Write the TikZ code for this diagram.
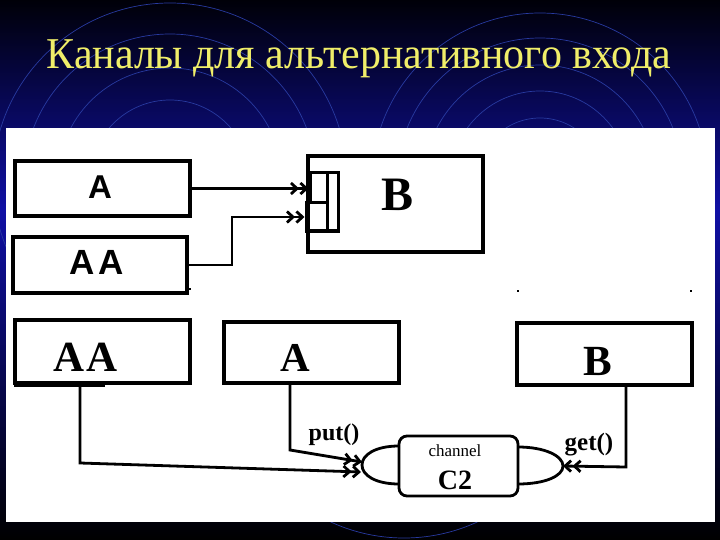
\documentclass[tikz,border=0pt]{standalone}
\usepackage{fontspec}
\setmainfont{Liberation Serif}
\newfontfamily\sansf{Liberation Sans}
\newfontfamily\titlefont[FakeStretch=0.953]{Liberation Serif}
\usetikzlibrary{arrows.meta}
\definecolor{titleyellow}{RGB}{240,238,105}
\definecolor{navybg}{RGB}{16,16,165}
\definecolor{topbg}{RGB}{0,0,8}
\definecolor{ringblue}{RGB}{40,58,160}
\begin{document}
\begin{tikzpicture}[x=1pt,y=-1pt,
  box/.style={draw=black, line width=3.2pt, fill=white, inner sep=0pt},
  portbox/.style={draw=black, line width=3pt, inner sep=0pt},
  arr/.style={line width=2.8pt, -{Straight Barb[length=6pt,width=11pt] Straight Barb[length=6pt,width=11pt]}},
  plain/.style={line width=2.8pt},
  lbl/.style={inner sep=0pt, text=black},
  ring/.style={draw=ringblue, line width=0.7pt}]
\useasboundingbox (0,0) rectangle (720,540);
\clip (0,0) rectangle (720,540);
\shade[top color=topbg, bottom color=navybg] (0,0) rectangle (720,210);
\shade[top color=navybg, bottom color=black] (0,210) rectangle (720,540);
\foreach \r in {80,112,146,177} \draw[ring] (170,180) circle[radius=\r];
\foreach \r in {63,90,116,143,168} \draw[ring] (540,181) circle[radius=\r];
\draw[ring] (404,363) circle[radius=175];
\node[anchor=base, text=titleyellow, font=\titlefont\fontsize{44}{50}\selectfont] (title) at (359,69) {Каналы для альтернативного входа};
\fill[white] (6,128) rectangle (715,522);
% top row
\node[box, minimum width=175pt, minimum height=55pt] (A) at (102.5,188.5) {};
\node[box, minimum width=174pt, minimum height=56pt] (AA) at (100,265) {};
\node[box, minimum width=175pt, minimum height=96pt] (B) at (395.5,204) {};
\node[lbl, font=\sansf\bfseries\fontsize{33}{33}\selectfont] (Alab) at (100,187) {A};
\node[lbl, font=\sansf\bfseries\fontsize{35}{35}\selectfont] (AAlab) at (97,262.5) {A\hspace{4pt}A};
\node[lbl, font=\bfseries\fontsize{48}{48}\selectfont] (Blab) at (398,195) {B};
% port on B
\node[portbox, minimum width=17pt, minimum height=30pt] (p1) at (318.5,188) {};
\node[portbox, minimum width=21pt, minimum height=28pt] (p2) at (316.5,217) {};
\node[portbox, minimum width=11pt, minimum height=58pt] (p3) at (332.5,202) {};
\draw[arr] (A.east) -- (A.east -| p1.west);
\coordinate (k0) at (232,265);
\draw[arr] (AA.east) -- (k0) |- (p2.west);
% bottom row
\node[box, minimum width=175pt, minimum height=63pt] (AA2) at (102.5,351.5) {};
\draw[line width=2pt] (14,385.5) -- (105,385.5);
\node[box, minimum width=175pt, minimum height=61pt] (A2) at (311.5,352.5) {};
\node[box, minimum width=175pt, minimum height=62pt] (B2) at (604.5,354) {};
\node[lbl, font=\bfseries\fontsize{43}{43}\selectfont] (AA2lab) at (86,357) {A\hspace{2pt}A};
\node[lbl, font=\bfseries\fontsize{41}{41}\selectfont] (A2lab) at (295,358) {A};
\node[lbl, font=\bfseries\fontsize{43}{43}\selectfont] (B2lab) at (598,361) {B};
% channel
\node[draw=black, line width=2.8pt, rounded corners=8pt, minimum width=119pt, minimum height=60pt, inner sep=0pt] (ch) at (458.5,466) {};
\node[lbl, font=\fontsize{17}{17}\selectfont] (chtxt) at (455,451) {channel};
\node[lbl, font=\bfseries\fontsize{28}{28}\selectfont] (c2) at (455,480) {C2};
\coordinate (Ltip) at (362,465);
\coordinate (Rtip) at (563,466);
\draw[plain] (399,446) .. controls (375,446) and (362,455) .. (Ltip) .. controls (362,475) and (375,484) .. (399,484);
\draw[plain] (518,447) .. controls (545,447) and (563,456) .. (Rtip) .. controls (563,476) and (545,484) .. (518,484);
% connectors
\coordinate (k1) at (290,450);
\coordinate (k2) at (80,463);
\coordinate (k3) at (626,467);
\coordinate (e1) at (362,462);
\coordinate (e2) at (361,472);
\draw[arr] (A2.south -| k1) -- (k1) -- (e1);
\draw[arr] (AA2.south -| k2) -- (k2) -- (e2);
\draw[arr] (B2.south -| k3) -- (k3) -- (Rtip);
\node[lbl, font=\bfseries\fontsize{24}{24}\selectfont, anchor=base] (put) at (334,440) {put()};
\node[lbl, font=\bfseries\fontsize{25}{25}\selectfont, anchor=base] (get) at (589,450) {get()};
% dots
\foreach \p in {(518,291),(691,291),(190,289)} \fill[black] \p +(-1.4,-1.4) rectangle +(1.4,1.4);
\end{tikzpicture}
\end{document}
